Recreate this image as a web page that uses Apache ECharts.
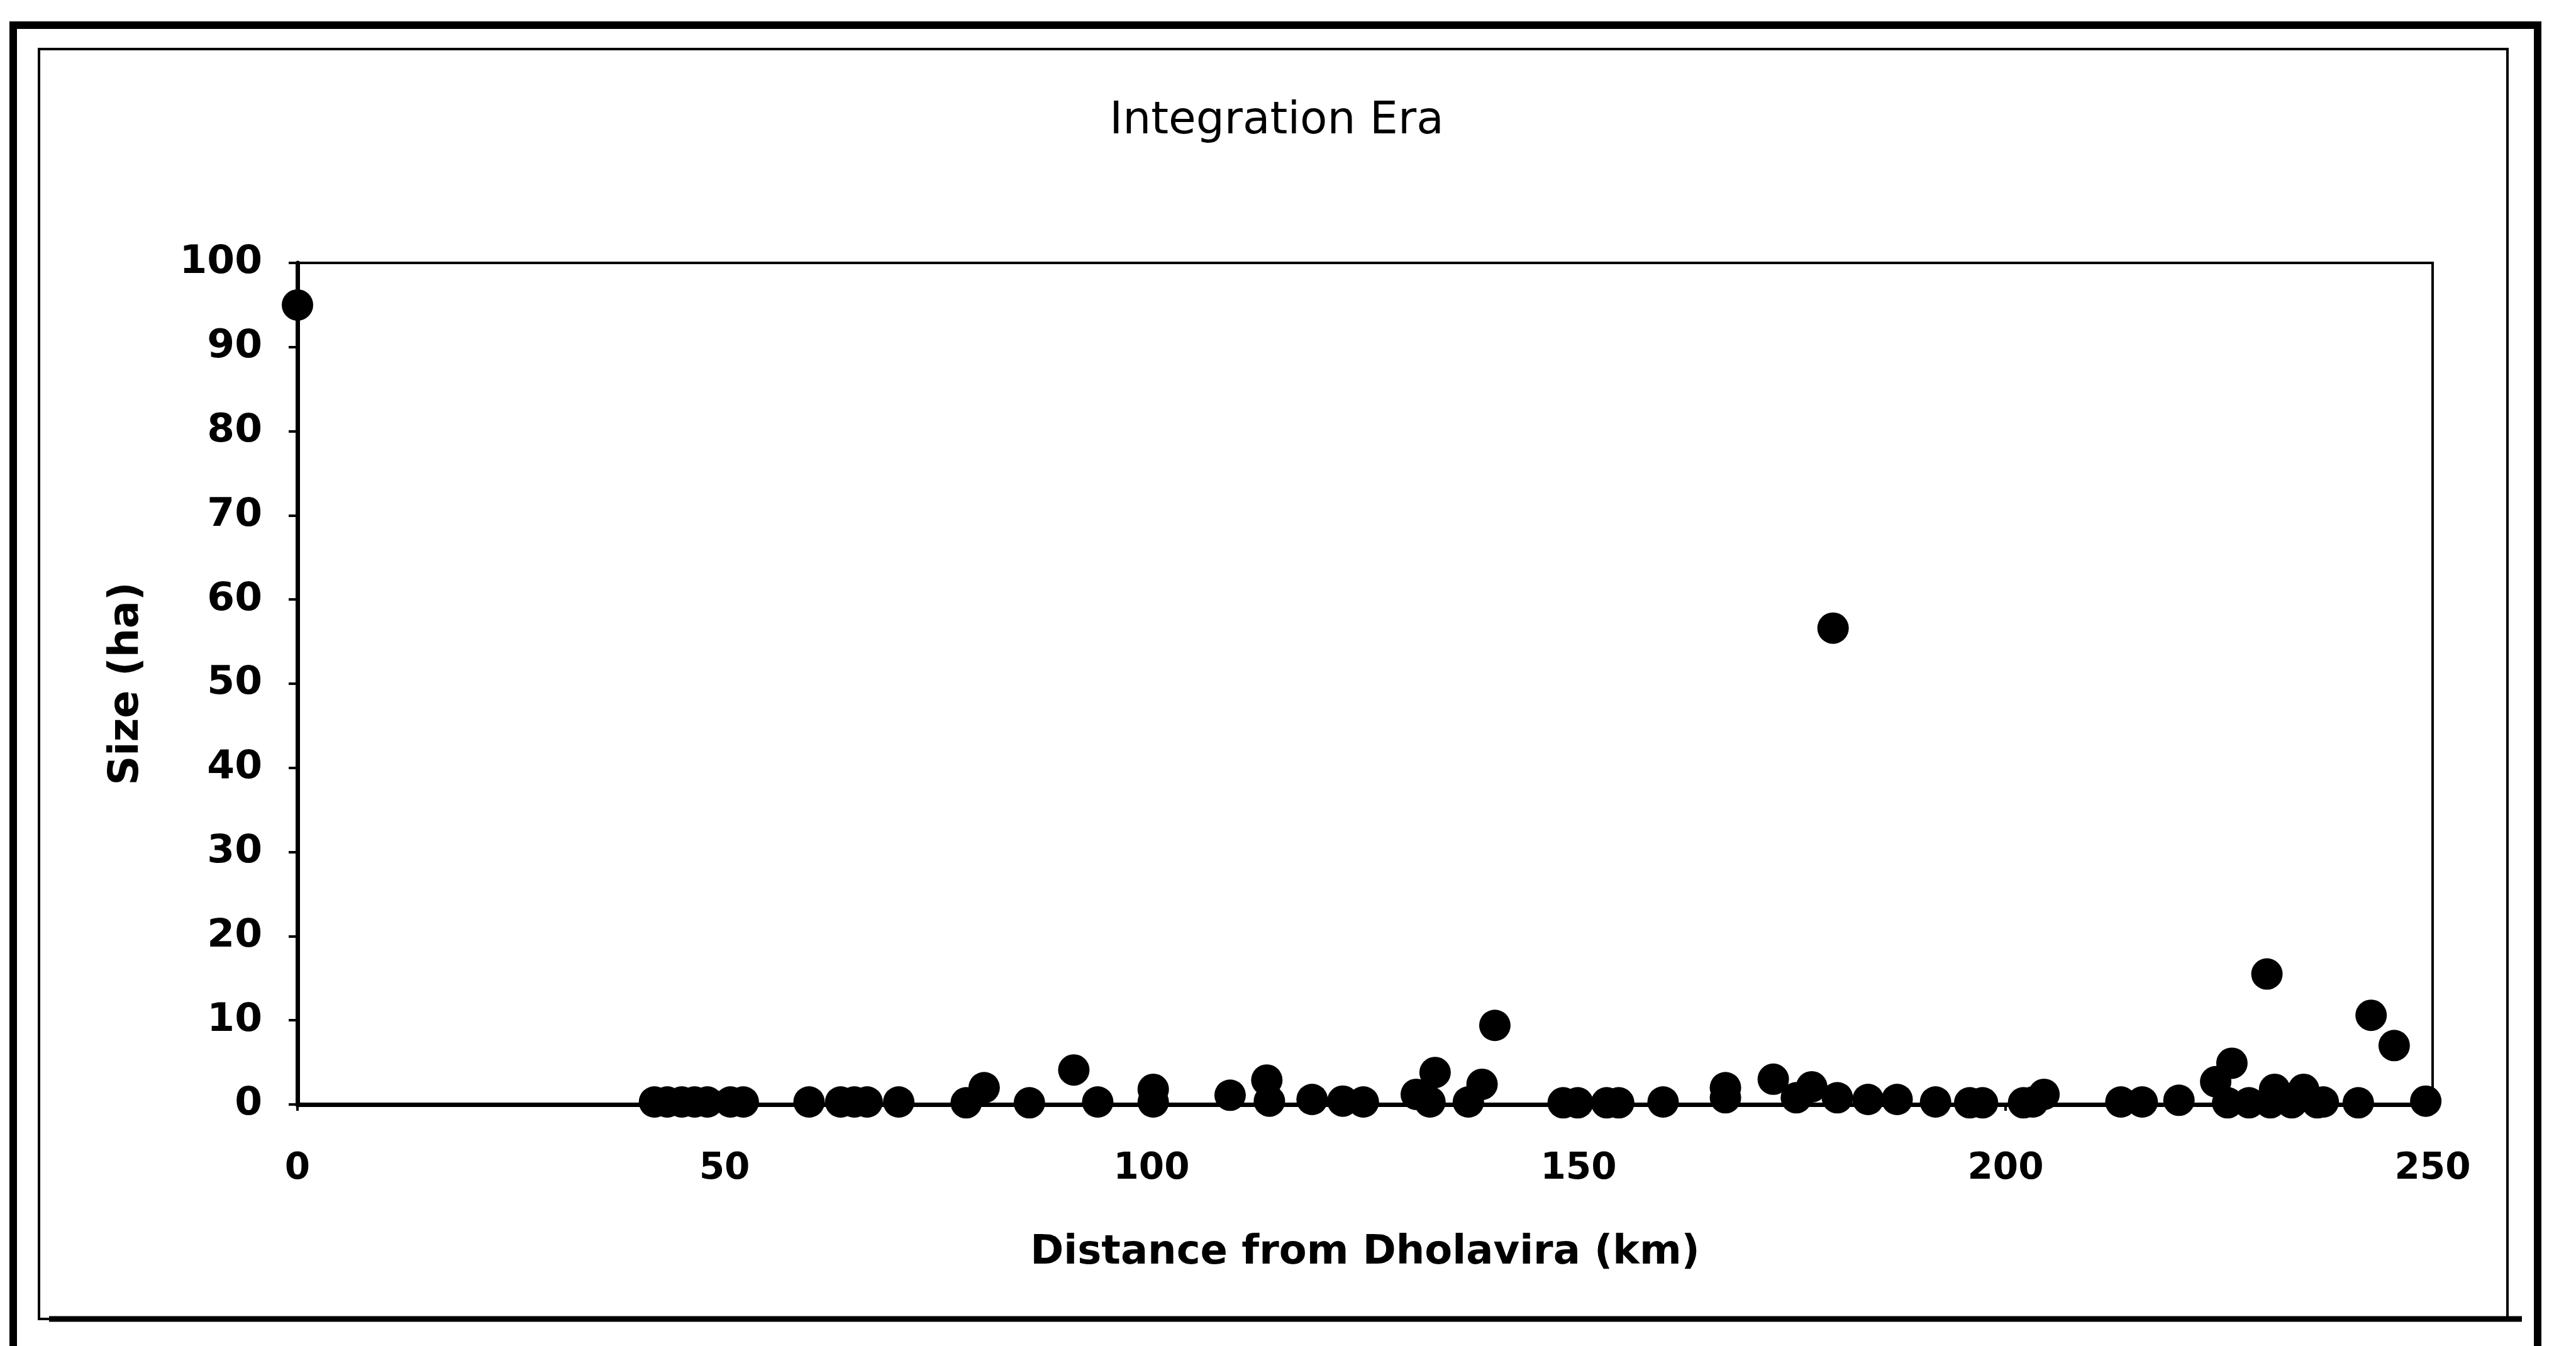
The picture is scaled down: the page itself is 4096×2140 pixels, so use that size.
<!DOCTYPE html>
<html>
<head>
<meta charset="utf-8">
<title>Integration Era</title>
<script src="https://cdn.jsdelivr.net/npm/echarts@6/dist/echarts.min.js"></script>
<style>
  html, body { margin: 0; padding: 0; background: #fff; }
  #chart { width: 4096px; height: 2140px; }
</style>
</head>
<body>
<div id="chart"></div>
<script>
// Settlement distances from Dholavira (km)
const distanceKm = [
  0, 41.8, 43.3, 45.0, 46.5, 48.0, 50.7, 52.2, 59.9, 63.6,
  65.2, 66.7, 70.4, 78.3, 80.4, 85.7, 90.9, 93.7, 100.2, 100.2,
  109.2, 113.5, 113.8, 118.8, 122.4, 124.8, 131.0, 132.6, 133.2, 137.1,
  138.7, 140.2, 148.2, 149.9, 153.3, 154.7, 159.9, 167.2, 167.2, 172.8,
  175.5, 177.3, 179.8, 180.3, 183.9, 187.3, 191.8, 195.8, 197.3, 202.1,
  203.2, 204.5, 213.5, 216.0, 220.3, 224.6, 226.5, 226.0, 228.5, 230.6,
  231.5, 231.0, 233.5, 234.9, 236.5, 237.2, 241.3, 242.8, 245.5, 249.2
];
// Settlement sizes (ha)
const sizeHa = [
  95, 0.3, 0.3, 0.3, 0.3, 0.3, 0.3, 0.3, 0.3, 0.3,
  0.3, 0.3, 0.3, 0.2, 2.0, 0.2, 4.1, 0.3, 1.8, 0.3,
  1.1, 2.9, 0.4, 0.6, 0.4, 0.3, 1.2, 0.3, 3.8, 0.3,
  2.4, 9.4, 0.2, 0.2, 0.2, 0.2, 0.3, 2.0, 0.8, 3.0,
  0.8, 2.1, 56.6, 0.8, 0.6, 0.6, 0.3, 0.2, 0.2, 0.2,
  0.3, 1.2, 0.3, 0.3, 0.5, 2.7, 4.9, 0.2, 0.2, 15.5,
  1.8, 0.2, 0.2, 1.8, 0.2, 0.3, 0.2, 10.6, 7.0, 0.4
];
const xTicks = [0, 50, 100, 150, 200, 250];
const yTicks = [0, 10, 20, 30, 40, 50, 60, 70, 80, 90, 100];

const points = distanceKm.map((d, i) => [d, sizeHa[i]]);

const chart = echarts.init(document.getElementById('chart'), null, { renderer: 'canvas' });

const option = {
  backgroundColor: '#ffffff',
  animation: false,
  title: {
    text: 'Integration Era',
    left: 2030,
    top: 158,
    textAlign: 'center',
    padding: 0,
    textStyle: {
      fontFamily: 'DejaVu Sans',
      fontWeight: 'normal',
      fontSize: 71,
      color: '#000'
    }
  },
  grid: {
    left: 473,
    right: 228,
    top: 418,
    bottom: 384,
    show: true,
    borderColor: '#000',
    borderWidth: 4,
    backgroundColor: 'transparent'
  },
  xAxis: {
    type: 'value',
    min: xTicks[0],
    max: xTicks[xTicks.length - 1],
    interval: 50,
    name: 'Distance from Dholavira (km)',
    nameLocation: 'middle',
    nameGap: 204,
    nameTextStyle: {
      fontFamily: 'DejaVu Sans',
      fontWeight: 'bold',
      fontSize: 64,
      color: '#000'
    },
    axisLine: { show: true, onZero: false, lineStyle: { color: '#000', width: 7 } },
    axisTick: { show: true, length: 10, lineStyle: { color: '#000', width: 4 } },
    axisLabel: {
      margin: 74,
      fontFamily: 'DejaVu Sans',
      fontWeight: 'bold',
      fontSize: 58,
      color: '#000'
    },
    splitLine: { show: false }
  },
  yAxis: {
    type: 'value',
    min: yTicks[0],
    max: yTicks[yTicks.length - 1],
    interval: 10,
    name: 'Size (ha)',
    nameLocation: 'middle',
    nameGap: 238,
    nameTextStyle: {
      fontFamily: 'DejaVu Sans',
      fontWeight: 'bold',
      fontSize: 65,
      color: '#000'
    },
    axisLine: { show: true, onZero: false, lineStyle: { color: '#000', width: 7 } },
    axisTick: { show: true, length: 14, lineStyle: { color: '#000', width: 4 } },
    axisLabel: {
      margin: 56,
      fontFamily: 'DejaVu Sans',
      fontWeight: 'bold',
      fontSize: 63,
      color: '#000'
    },
    splitLine: { show: false }
  },
  series: [{
    type: 'scatter',
    data: points,
    symbol: 'circle',
    symbolSize: 50,
    clip: false,
    itemStyle: { color: '#000', opacity: 1 },
    z: 5
  }],
  graphic: [
    {
      // outer frame (its lower edge runs past the bottom of the page)
      type: 'rect',
      z: 100,
      silent: true,
      shape: { x: 21, y: 40, width: 4014, height: 2140 },
      style: { fill: 'none', stroke: '#000', lineWidth: 12 }
    },
    {
      // inner frame
      type: 'rect',
      z: 100,
      silent: true,
      shape: { x: 62, y: 78, width: 3925, height: 2019 },
      style: { fill: 'none', stroke: '#000', lineWidth: 4 }
    },
    {
      type: 'line',
      z: 100,
      silent: true,
      shape: { x1: 78, y1: 2097, x2: 4010, y2: 2097 },
      style: { stroke: '#000', lineWidth: 9 }
    }
  ]
};

chart.setOption(option);
</script>
</body>
</html>
